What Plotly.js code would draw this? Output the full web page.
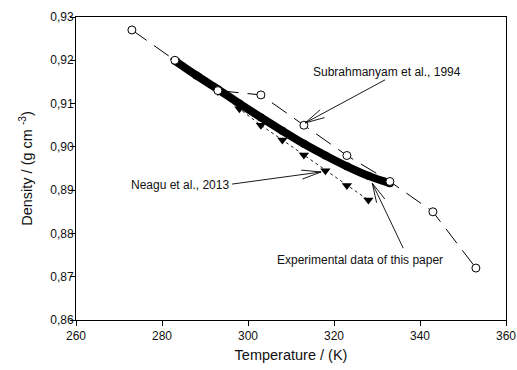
<!DOCTYPE html>
<html>
<head>
<meta charset="utf-8">
<script src="https://cdn.plot.ly/plotly-3.0.1.min.js"></script>
<style>html,body{margin:0;padding:0;background:#fff;}#chart{width:517px;height:370px;}</style>
</head>
<body>
<div id="chart"></div>
<script>
// Data
var subT = [273, 283, 293, 303, 313, 323, 333, 343, 353];
var subD = [0.927, 0.920, 0.913, 0.912, 0.905, 0.898, 0.892, 0.885, 0.872];

var expT = [283, 288, 293, 298, 303, 308, 313, 318, 323, 328, 333];
var expD = [0.9199, 0.9165, 0.9133, 0.9100, 0.9068, 0.9037, 0.9007, 0.8980, 0.8955, 0.8933, 0.8916];

var neaT = [283, 288, 293, 298, 303, 308, 313, 318, 323, 328];
var neaD = [0.9199, 0.9164, 0.9128, 0.9088, 0.9050, 0.9016, 0.8981, 0.8945, 0.8911, 0.8877];

var labels = ["Subrahmanyam et al., 1994", "Neagu et al., 2013", "Experimental data of this paper"];

var FONT = "Liberation Sans, Arial, sans-serif";
var W = 517, H = 370, M = {l: 76, r: 11, t: 17, b: 50};
var XR = [260, 360], YR = [0.86, 0.93];
var kx = (W - M.l - M.r) / (XR[1] - XR[0]);   // px per unit
var ky = (H - M.t - M.b) / (YR[1] - YR[0]);

var traces = [
  {x: neaT, y: neaD, mode: "lines+markers", type: "scatter",
   line: {color: "#222", width: 1, dash: "dot"},
   marker: {symbol: "triangle-down", size: 9, color: "#000"}},
  {x: expT, y: expD, mode: "lines+markers", type: "scatter",
   line: {color: "#000", width: 8, shape: "spline"},
   marker: {symbol: "circle", size: 8, color: "#000"}},
  {x: subT, y: subD, mode: "lines+markers", type: "scatter",
   line: {color: "#000", width: 1, dash: "18px,9px"},
   marker: {symbol: "circle", size: 8, color: "#fff", line: {color: "#000", width: 1}}}
];

// open arrow: shaft + two legs, built in pixel space then converted to data units
function arrowShapes(tx, ty, hx, hy) {
  var ln = {color: "#000", width: 0.9};
  var shapes = [{type: "line", xref: "x", yref: "y", x0: tx, y0: ty, x1: hx, y1: hy, line: ln}];
  var dx = (tx - hx) * kx, dy = -(ty - hy) * ky;   // screen vector tip->tail
  var a = Math.atan2(dy, dx), L = 20, h = 13 * Math.PI / 180;
  [a - h, a + h].forEach(function (b) {
    var ex = hx + L * Math.cos(b) / kx, ey = hy - L * Math.sin(b) / ky;
    shapes.push({type: "line", xref: "x", yref: "y", x0: hx, y0: hy, x1: ex, y1: ey, line: ln});
  });
  return shapes;
}
function label(txt, x, y, xa) {
  return {x: x, y: y, xref: "x", yref: "y", text: txt, showarrow: false, xanchor: xa || "center",
          yanchor: "middle", font: {family: FONT, size: 12, color: "#111"}};
}

var shapes = [].concat(
  arrowShapes(331.9, 0.91549, 313.3, 0.90553),
  arrowShapes(296.3, 0.8914, 317.0, 0.8942),
  arrowShapes(336.1, 0.8766, 328.9, 0.8916)
);

var layout = {
  width: W, height: H,
  margin: M,
  paper_bgcolor: "#fff", plot_bgcolor: "#fff",
  showlegend: false,
  separators: ", ",
  font: {family: FONT, color: "#111"},
  xaxis: {range: XR, dtick: 20, tick0: 260, showgrid: false, zeroline: false,
          showline: true, mirror: true, linecolor: "#000", linewidth: 1,
          ticks: "outside", ticklen: 5, tickcolor: "#000",
          tickfont: {family: FONT, size: 12, color: "#111"},
          title: {text: "Temperature / (K)", font: {family: FONT, size: 14.5, color: "#111"}, standoff: 7}},
  yaxis: {range: YR, dtick: 0.01, tickformat: ".2f", showgrid: false, zeroline: false,
          showline: true, mirror: true, linecolor: "#000", linewidth: 1,
          ticks: "outside", ticklen: 5, tickcolor: "#000", ticklabelstandoff: -6,
          tickfont: {family: FONT, size: 12, color: "#111"},
          title: {text: "Density / (g cm <sup>-3</sup>)", font: {family: FONT, size: 14.5, color: "#111"}, standoff: 14}},
  shapes: shapes,
  annotations: [
    label(labels[0], 332.4, 0.91734),
    label(labels[1], 296.0, 0.8912, "right"),
    label(labels[2], 326.1, 0.8738)
  ]
};

Plotly.newPlot("chart", traces, layout, {staticPlot: true, displayModeBar: false});
</script>
</body>
</html>
